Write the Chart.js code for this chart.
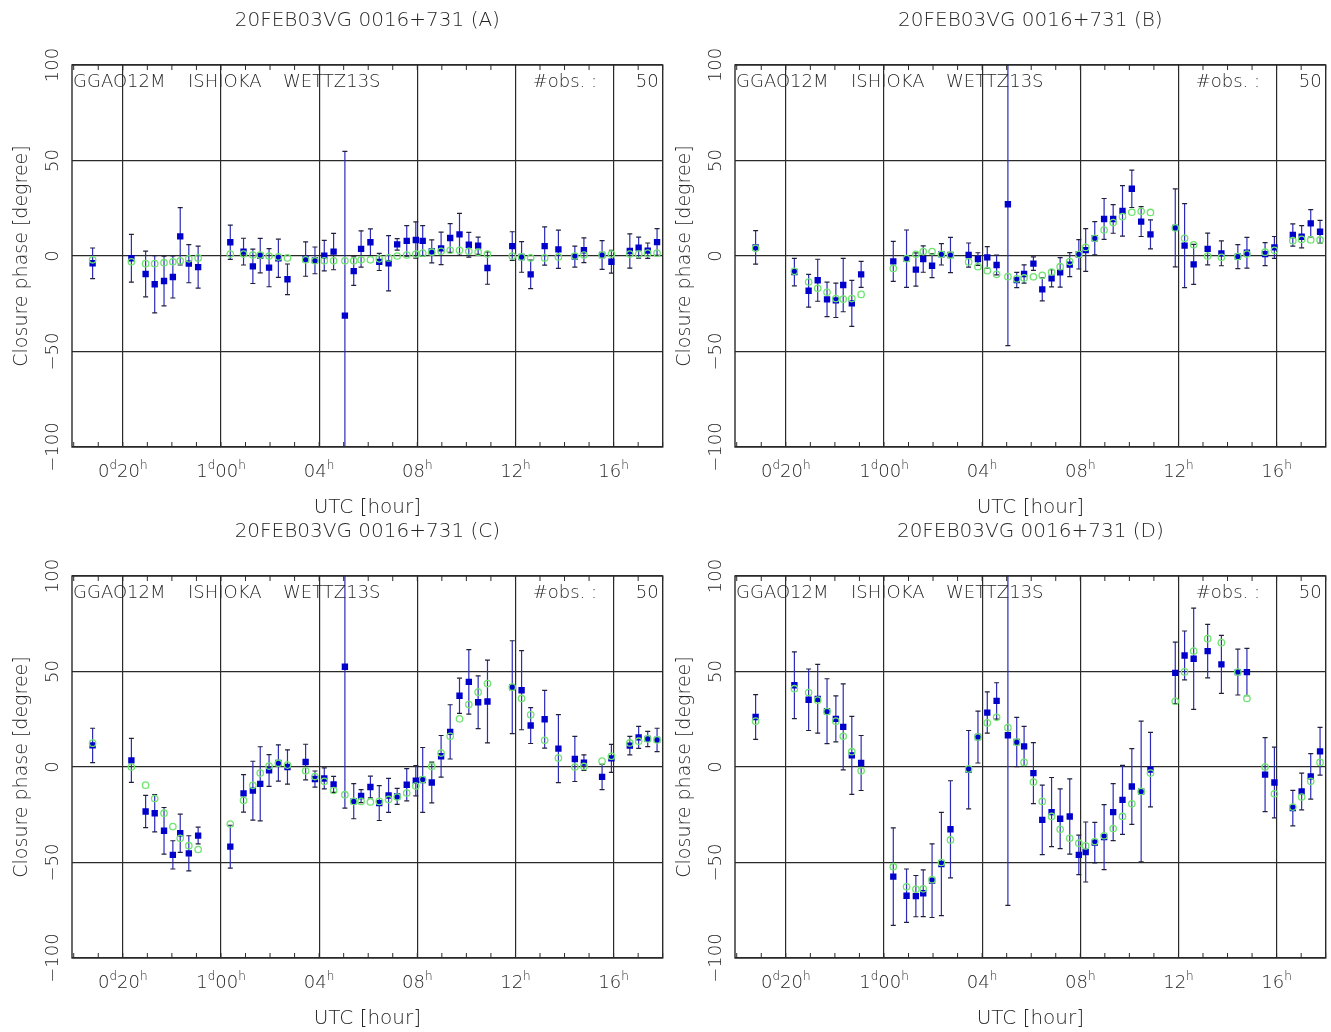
<!DOCTYPE html>
<html lang="en">
<head>
<meta charset="UTF-8">
<title>Closure phase | 20FEB03VG 0016+731</title>
<script src="https://cdn.jsdelivr.net/npm/chart.js"></script>
<style>
    body { margin: 0; background: #fff; }
    #wrap { position: relative; width: 1331px; height: 1032px; overflow: hidden; }
    #wrap canvas { position: absolute; }
</style>
</head>
<body>
<div id="wrap">
    <canvas id="chartA" width="668" height="520" style="left:0px;top:0px"></canvas>
    <canvas id="chartB" width="668" height="520" style="left:663px;top:0px"></canvas>
    <canvas id="chartC" width="668" height="520" style="left:0px;top:511px"></canvas>
    <canvas id="chartD" width="668" height="520" style="left:663px;top:511px"></canvas>
</div>
<script>
// scan times, hours since 0d00h
const hours = [18.77, 20.35, 20.93, 21.30, 21.68, 22.04, 22.34, 22.69, 23.07,
    24.38, 24.92, 25.30, 25.60, 25.96, 26.34, 26.71, 27.45, 27.83, 28.21, 28.59, 29.05, 29.41, 29.71, 30.09,
    30.45, 30.83, 31.18, 31.57, 31.94, 32.22, 32.59, 32.97, 33.34, 33.72, 34.10, 34.48, 34.86,
    35.87, 36.25, 36.62, 37.19, 37.75, 38.42, 38.79, 39.53, 39.91, 40.66, 41.02, 41.39, 41.77];

// (A)
const phaseA = [-3.8, -1.2, -9.4, -14.8, -13.1, -11.0, 10.3, -4.0, -5.8,
    7.2, 2.3, -5.4, 0.2, -6.1, -1.2, -12.2, -1.6, -2.3, 0.2, 2.3, -31.2, -7.9, 3.7, 7.2,
    -3.1, -3.8, 6.1, 7.9, 8.4, 7.9, 2.4, 4.0, 9.4, 11.3, 5.9, 5.4, -6.3,
    5.2, -0.5, -9.6, 5.2, 3.5, -0.3, 3.0, 0.5, -3.0, 2.6, 4.4, 2.8, 7.3];
const errA = [8, 12.5, 12, 15, 13, 11, 15, 10, 11,
    9, 7, 9, 9, 10, 10, 8, 9, 7, 8, 9.5, 86, 7.5, 9.5, 7,
    4.5, 14.5, 3, 8, 9.5, 8, 6, 8.5, 7.5, 11, 6.5, 4.5, 8.5,
    7.5, 8, 7.5, 10, 10, 5.5, 6.5, 7.5, 6, 9, 5.5, 4, 7];
const modelA = [-2, -3, -4, -4, -3.5, -3, -2.5, -1.5, -1,
    1, 1, 0.5, 0.5, 0, -0.5, -1, -2, -2.5, -2.5, -2.5, -2.5, -2.5, -2, -2,
    -1.5, -1, 0, 0.5, 1, 1.5, 2, 2.5, 3, 3, 2.5, 2, 1,
    0, -0.5, -1, -1, -0.5, 0, 0.5, 0.5, 1, 1, 1, 1.5, 1.5];

// (B)
const phaseB = [4.5, -8.4, -18.2, -12.7, -22.7, -23.2, -15.2, -24.8, -9.6,
    -2.8, -1.4, -7.1, -1.6, -5.1, 0.9, 0.5, 0.5, -1.6, -0.7, -4.7, 27.1, -12.6, -9.4, -4.0,
    -17.5, -11.7, -8.6, -4.5, 0.9, 3.1, 9.3, 19.4, 19.4, 23.6, 35.2, 18.0, 11.3,
    14.7, 5.4, -4.4, 3.7, 1.4, -0.3, 1.7, 1.0, 4.5, 11.0, 10.1, 17.1, 12.7];
const errB = [8.8, 7.2, 8.6, 11, 9, 9, 14, 12, 6.8,
    10.5, 15, 8.7, 6.9, 6.2, 5.6, 9.2, 6.3, 3.3, 5.6, 5.2, 74, 4, 4.8, 3.5,
    6, 4.5, 7.7, 6.3, 7.7, 11.2, 8.7, 10.7, 7.5, 13.2, 9.8, 7.8, 7.6,
    20.4, 22, 10.5, 8.3, 6.5, 6.3, 8, 6, 5.7, 5.8, 5.8, 7.2, 6];
const modelB = [4, -8, -13.6, -16.9, -19, -22.3, -22.6, -22.3, -20.1,
    -6.5, -1.4, 0.9, 2.3, 2.3, 0.9, 0.5, -3.1, -5.6, -7.7, -9.6, -10.8, -12, -11.5, -10.9,
    -10.1, -8.4, -5.6, -2.9, 0.9, 4.5, 9.3, 13.6, 17.5, 20.6, 22.9, 23.4, 22.8,
    14.7, 9.3, 5.9, 0, -0.7, -0.3, 1, 2, 3, 8, 8.7, 8.4, 8.4];

// (C)
const phaseC = [11.3, 3.5, -23.3, -24.2, -33.4, -46.0, -34.7, -45.2, -35.9,
    -41.7, -13.8, -12.4, -8.8, -1.8, 2.1, 0, 2.6, -6.3, -6.0, -9.1, 52.5, -17.9, -15.2, -10.5,
    -18.9, -14.9, -15.4, -9.3, -7.2, -6.8, -8.1, 5.6, 18.4, 37.3, 44.6, 33.9, 34.3,
    41.8, 40.2, 21.7, 25.0, 9.6, 4.2, 2.3, -5.2, 4.5, 11.2, 15.5, 14.7, 14.2];
const errC = [9, 11.5, 8.4, 9.8, 12.2, 7.4, 10, 9.2, 4.4,
    11.2, 9.8, 15.4, 19.4, 8.3, 9.5, 9, 9.3, 4.2, 5.5, 4.2, 74, 9.2, 3.4, 5.7,
    9.1, 8.9, 4.2, 8.4, 7.9, 17, 10.7, 10.9, 14.2, 9.2, 16.9, 13.8, 21.7,
    24.3, 20.7, 9.4, 15.1, 17.8, 11.8, 4.1, 6.6, 7.3, 4.8, 5.8, 4, 6.1];
const modelC = [12.5, 0, -9.5, -16.5, -24.2, -31.2, -37.3, -41.2, -43.2,
    -29.9, -17.5, -9.6, -3.2, 0.5, 2, 1, -2, -5, -7.5, -12.3, -14.5, -18, -18, -18.3,
    -18, -17, -15.7, -13.6, -10, -6.6, 0.3, 7.3, 16.1, 25.2, 32.7, 39.2, 43.7,
    41.8, 35.9, 27.3, 14, 4.7, 0, 0.3, 3.1, 5.6, 12.6, 13.5, 14.7, 14.2];

// (D)
const phaseD = [26.2, 42.8, 35.2, 35.7, 29.2, 25.2, 21.0, 6.1, 2.1,
    -57.4, -67.4, -67.6, -66.1, -59.5, -50.8, -32.6, -1.4, 15.7, 28.5, 34.6, 16.6, 13.1, 10.8, -3.2,
    -27.7, -23.6, -27.1, -25.9, -46.0, -44.5, -39.6, -36.7, -23.6, -17.2, -10.2, -12.8, -1.4,
    49.3, 58.4, 56.7, 60.7, 53.7, 49.7, 49.7, -4.0, -8.1, -21.5, -12.8, -4.9, 8.2];
const errD = [11.7, 17.5, 16.1, 18, 17, 12, 22.5, 20.4, 14.4,
    25.5, 14, 10.8, 12.2, 19.3, 27, 25.4, 20.5, 13.6, 10.8, 9.5, 89, 12.9, 10.5, 16,
    18.2, 18.1, 15.6, 19.7, 10.3, 15.7, 10.6, 17, 14.9, 18.1, 19.8, 36.8, 19.5,
    16.1, 12.8, 26.5, 14, 15.2, 12, 12.4, 19.4, 18.5, 9.3, 9.6, 11.9, 12.5];
const modelD = [24, 41, 39, 35, 29, 24, 16.1, 8, -2,
    -52.2, -62.7, -64, -63.8, -59, -50, -38.2, -1, 15.7, 23.1, 26, 20.6, 13, 2.4, -7.9,
    -18, -25.9, -32.6, -37.3, -39.9, -41.3, -39, -36, -32.2, -25.9, -19.3, -12.8, -3.2,
    34.4, 49.8, 60.7, 67.2, 65.1, 49.7, 35.9, 0, -14, -21, -15.7, -7.5, 2.4];

const xTickHours = [20, 24, 28, 32, 36, 40];
const xTickLabels = ['0^d20^h', '1^d00^h', '04^h', '08^h', '12^h', '16^h'];
const yTickValues = [-100, -50, 0, 50, 100];
const yTickLabels = ['\u2212100', '\u221250', '0', '50', '100'];
const sourceTitle = '20FEB03VG 0016+731';
const stations = ['GGAO12M', 'ISHIOKA', 'WETTZ13S'];
const nObs = 50;

const FONT = '"DejaVu Sans", "Liberation Sans", sans-serif';
const TXT = '#262626';

// draws a label like 0^d20^h, char after ^ is superscript
function drawSupLabel(ctx, label, cx, baseline) {
    const parts = [];
    for (let i = 0; i < label.length; i++) {
        if (label[i] === '^') { parts.push({ t: label[i + 1], sup: true }); i++; }
        else parts.push({ t: label[i], sup: false });
    }
    const big = '300 18px ' + FONT, small = '300 12px ' + FONT;
    let total = 0;
    parts.forEach(p => { ctx.font = p.sup ? small : big; p.w = ctx.measureText(p.t).width; total += p.w; });
    let x = cx - total / 2;
    ctx.textAlign = 'left';
    ctx.textBaseline = 'alphabetic';
    parts.forEach(p => {
        ctx.font = p.sup ? small : big;
        ctx.fillText(p.t, x, p.sup ? baseline - 8 : baseline);
        x += p.w;
    });
}

const panelDecor = {
    id: 'panelDecor',
    beforeDatasetsDraw(chart) {
        const ds = chart.data.datasets[1];
        const meta = chart.getDatasetMeta(1);
        const ys = chart.scales.y;
        const a = chart.chartArea;
        const ctx = chart.ctx;
        ctx.save();
        ctx.beginPath();
        ctx.rect(a.left, a.top, a.right - a.left, a.bottom - a.top);
        ctx.clip();
        meta.data.forEach((pt, i) => {
            const v = ds.data[i].y, e = ds.errors[i];
            const y1 = ys.getPixelForValue(v + e), y2 = ys.getPixelForValue(v - e);
            ctx.strokeStyle = '#2c2cb8';
            ctx.lineWidth = 1.2;
            ctx.beginPath();
            ctx.moveTo(pt.x, y1);
            ctx.lineTo(pt.x, y2);
            ctx.stroke();
            ctx.strokeStyle = '#20203a';
            ctx.beginPath();
            ctx.moveTo(pt.x - 2.5, y1); ctx.lineTo(pt.x + 2.5, y1);
            ctx.moveTo(pt.x - 2.5, y2); ctx.lineTo(pt.x + 2.5, y2);
            ctx.stroke();
        });
        ctx.restore();
    },
    afterDraw(chart, args, opts) {
        const ctx = chart.ctx;
        const a = chart.chartArea;
        const xs = chart.scales.x, ys = chart.scales.y;
        ctx.save();

        // frame
        ctx.strokeStyle = '#2a2a2a';
        ctx.lineWidth = 1.4;
        ctx.strokeRect(a.left, a.top, a.right - a.left, a.bottom - a.top);

        // hourly minor ticks, top and bottom, inward
        ctx.lineWidth = 1;
        ctx.beginPath();
        for (let h = Math.ceil(xs.min); h <= xs.max; h++) {
            const px = xs.getPixelForValue(h);
            ctx.moveTo(px, a.bottom); ctx.lineTo(px, a.bottom - 5);
            ctx.moveTo(px, a.top); ctx.lineTo(px, a.top + 5);
        }
        ctx.stroke();

        ctx.fillStyle = TXT;

        // y tick labels, rotated
        yTickValues.forEach((v, i) => {
            ctx.save();
            ctx.translate(a.left - 19, ys.getPixelForValue(v));
            ctx.rotate(-Math.PI / 2);
            ctx.font = '300 18px ' + FONT;
            ctx.textAlign = 'center';
            ctx.textBaseline = 'middle';
            ctx.fillText(yTickLabels[i], 0, 0);
            ctx.restore();
        });

        // x tick labels
        xTickHours.forEach((v, i) => drawSupLabel(ctx, xTickLabels[i], xs.getPixelForValue(v), a.bottom + 30));

        const cx = (a.left + a.right) / 2;
        // axis titles
        ctx.font = '300 20px ' + FONT;
        ctx.textAlign = 'center';
        ctx.textBaseline = 'alphabetic';
        ctx.fillText('UTC [hour]', cx, a.bottom + 66);
        ctx.save();
        ctx.translate(22, (a.top + a.bottom) / 2);
        ctx.rotate(-Math.PI / 2);
        ctx.font = '300 19px ' + FONT;
        ctx.textBaseline = 'middle';
        ctx.fillText('Closure phase [degree]', 0, 0);
        ctx.restore();

        // panel title
        ctx.font = '300 20px ' + FONT;
        ctx.fillText(sourceTitle + ' (' + opts.letter + ')', cx, 26);

        // station names and count
        ctx.font = '300 18px ' + FONT;
        ctx.textAlign = 'left';
        const offs = [1, 116, 211];
        stations.forEach((s, i) => ctx.fillText(s, a.left + offs[i], a.top + 22));
        ctx.fillText('#obs. :', a.right - 130, a.top + 22);
        ctx.textAlign = 'right';
        ctx.fillText(String(nObs), a.right - 4, a.top + 22);
        ctx.restore();
    }
};

function makePanel(id, letter, phase, err, model) {
    const gridOpts = { color: '#2a2a2a', lineWidth: 1.2, drawTicks: false };
    return new Chart(document.getElementById(id), {
        type: 'scatter',
        data: {
            datasets: [{
                label: 'model',
                data: hours.map((h, i) => ({ x: h, y: model[i] })),
                pointStyle: 'circle',
                pointRadius: 3.2,
                borderColor: '#6fe46f',
                backgroundColor: 'rgba(0,0,0,0)',
                borderWidth: 1.3,
                order: 0
            }, {
                label: 'observed',
                data: hours.map((h, i) => ({ x: h, y: phase[i] })),
                errors: err,
                pointStyle: 'rect',
                pointRadius: 4.5,
                backgroundColor: '#0000cc',
                borderColor: '#0000cc',
                borderWidth: 0,
                order: 1
            }]
        },
        options: {
            responsive: false,
            animation: false,
            events: [],
            layout: { padding: { top: 65, right: 3, left: 0, bottom: 0 } },
            plugins: {
                legend: { display: false },
                tooltip: { enabled: false },
                title: { display: false },
                panelDecor: { letter: letter }
            },
            scales: {
                x: {
                    type: 'linear', min: 17.93, max: 42,
                    afterBuildTicks: s => { s.ticks = xTickHours.map(v => ({ value: v })); },
                    afterFit: s => { s.height = 73; },
                    ticks: { display: false },
                    grid: gridOpts,
                    border: { display: false }
                },
                y: {
                    type: 'linear', min: -100, max: 100,
                    afterBuildTicks: s => { s.ticks = yTickValues.map(v => ({ value: v })); },
                    afterFit: s => { s.width = 72; },
                    ticks: { display: false },
                    grid: gridOpts,
                    border: { display: false }
                }
            }
        },
        plugins: [panelDecor]
    });
}

makePanel('chartA', 'A', phaseA, errA, modelA);
makePanel('chartB', 'B', phaseB, errB, modelB);
makePanel('chartC', 'C', phaseC, errC, modelC);
makePanel('chartD', 'D', phaseD, errD, modelD);
</script>
</body>
</html>
